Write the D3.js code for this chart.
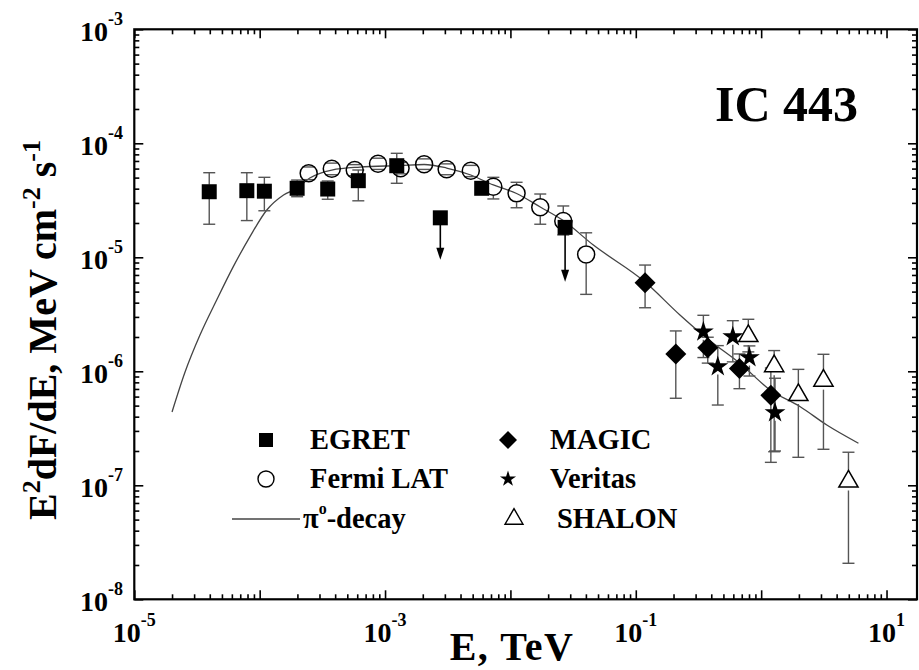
<!DOCTYPE html>
<html>
<head>
<meta charset="utf-8">
<script src="https://cdn.jsdelivr.net/npm/d3@7"></script>
<style>
  body { margin: 0; background: #fff; }
  svg text, svg tspan { font-family: "Liberation Serif", "DejaVu Serif", serif !important; font-weight: bold; fill: #000; }
</style>
</head>
<body>
<svg id="chart" width="919" height="670" style="font-family: 'Liberation Serif', serif;"></svg>
<script>
// ---- EGRET (filled squares) ----
const egretE  = [3.96e-5, 7.9e-5, 1.09e-4, 1.99e-4, 3.49e-4, 6.12e-4, 1.24e-3, 5.9e-3];
const egretF  = [3.76e-5, 3.84e-5, 3.80e-5, 4.03e-5, 3.97e-5, 4.70e-5, 6.36e-5, 4.03e-5];
const egretLo = [1.95e-5, 2.10e-5, 2.56e-5, 3.40e-5, 3.23e-5, 3.13e-5, 4.46e-5, 3.70e-5];
const egretHi = [5.52e-5, 5.52e-5, 5.03e-5, 4.76e-5, 4.67e-5, 5.83e-5, 8.17e-5, 4.40e-5];
// EGRET upper limits (value, arrow tip)
const egretUlE   = [2.76e-3, 2.73e-2];
const egretUlF   = [2.22e-5, 1.83e-5];
const egretUlTip = [9.5e-6, 6.1e-6];

// ---- Fermi LAT (open circles) ----
const fermiE  = [2.46e-4, 3.76e-4, 5.73e-4, 8.79e-4, 1.33e-3, 2.05e-3, 3.10e-3, 4.83e-3, 7.31e-3, 1.12e-2, 1.73e-2, 2.64e-2, 4.02e-2];
const fermiF  = [5.46e-5, 5.98e-5, 5.83e-5, 6.62e-5, 6.04e-5, 6.55e-5, 5.92e-5, 5.75e-5, 4.16e-5, 3.64e-5, 2.75e-5, 2.08e-5, 1.06e-5];
const fermiLo = [4.8e-5, 5.3e-5, 5.2e-5, 5.9e-5, 5.4e-5, 5.9e-5, 5.3e-5, 5.1e-5, 3.25e-5, 2.72e-5, 1.95e-5, 1.57e-5, 4.73e-6];
const fermiHi = [6.2e-5, 6.7e-5, 6.5e-5, 7.4e-5, 6.8e-5, 7.3e-5, 6.6e-5, 6.4e-5, 5.03e-5, 4.55e-5, 3.59e-5, 2.82e-5, 1.64e-5];

// ---- MAGIC (filled diamonds) ----
const magicE  = [0.1186, 0.2085, 0.375, 0.671, 1.195];
const magicF  = [5.98e-6, 1.42e-6, 1.61e-6, 1.06e-6, 6.16e-7];
const magicLo = [3.61e-6, 5.80e-7, 1.18e-6, 7.04e-7, 1.59e-7];
const magicHi = [8.55e-6, 2.26e-6, 1.99e-6, 1.42e-6, 1.07e-6];

// ---- Veritas (stars) ----
const veritasE  = [0.346, 0.451, 0.594, 0.806, 1.29];
const veritasF  = [2.22e-6, 1.10e-6, 2.01e-6, 1.32e-6, 4.34e-7];
const veritasLo = [1.32e-6, 5.06e-7, 1.21e-6, 9.09e-7, 2.00e-7];
const veritasHi = [3.10e-6, 1.68e-6, 2.78e-6, 1.67e-6, 8.69e-7];

// ---- SHALON (open triangles) ----
const shalonE  = [0.79, 1.27, 1.98, 3.14, 4.97];
const shalonF  = [2.04e-6, 1.11e-6, 6.19e-7, 8.28e-7, 1.08e-7];
const shalonLo = [1.48e-6, 1.97e-7, 1.76e-7, 2.07e-7, 2.07e-8];
const shalonHi = [2.86e-6, 1.52e-6, 1.04e-6, 1.41e-6, 1.95e-7];

// ---- pi0-decay model curve ----
const pionE = [2.0e-5, 2.54e-5, 3.34e-5, 4.54e-5, 6.16e-5, 8.37e-5, 1.14e-4, 1.55e-4, 1.98e-4, 2.51e-4,
               3.76e-4, 6.32e-4, 1.32e-3, 2.05e-3, 3.10e-3, 4.83e-3, 7.31e-3, 1.12e-2, 1.73e-2, 2.64e-2,
               4.59e-2, 0.1186, 0.225, 0.368, 0.679, 1.18, 2.05, 3.34, 5.97];
const pionF = [4.40e-7, 9.86e-7, 2.08e-6, 4.22e-6, 8.28e-6, 1.52e-5, 2.60e-5, 3.52e-5, 4.03e-5, 4.96e-5,
               5.83e-5, 6.19e-5, 6.38e-5, 6.52e-5, 6.07e-5, 5.27e-5, 4.31e-5, 3.63e-5, 2.76e-5, 2.10e-5,
               1.28e-5, 6.07e-6, 3.12e-6, 1.95e-6, 1.17e-6, 6.86e-7, 4.89e-7, 3.38e-7, 2.34e-7];

// ---- axis tick labels (decade exponents) ----
const xLabelExp = [-5, -3, -1, 1];
const yLabelExp = [-8, -7, -6, -5, -4, -3];

// ---- legend ----
const legendLeft  = ["EGRET", "Fermi LAT", "-decay"];
const legendRight = ["MAGIC", "Veritas", "SHALON"];
const sourceName = "IC 443";

const SERIF = "'Liberation Serif', 'DejaVu Serif', serif";
const svg = d3.select("#chart");
const X0 = 134.3, X1 = 917, Y0 = 29.3, Y1 = 599.3;
const x = d3.scaleLog().domain([1e-5, 17.5]).range([X0, X1]);
const y = d3.scaleLog().domain([1e-8, 1e-3]).range([Y1, Y0]);

function label(parent) {
  return parent.append("text").attr("font-family", SERIF).attr("font-weight", "bold");
}

// tick values
const decadesX = d3.range(-5, 2).map(e => Math.pow(10, e));
const minorX = [];
d3.range(-5, 2).forEach(e => { for (let m = 2; m <= 9; m++) { const v = m * Math.pow(10, e); if (v < 17.5) minorX.push(v); } });
const decadesY = d3.range(-8, -2).map(e => Math.pow(10, e));
const minorY = [];
d3.range(-8, -3).forEach(e => { for (let m = 2; m <= 9; m++) minorY.push(m * Math.pow(10, e)); });

function tickAxis(gen, pos, vals, len) {
  const g = svg.append("g").attr("transform", pos)
    .call(gen.tickValues(vals).tickSize(len).tickFormat(""));
  g.select(".domain").remove();
  g.selectAll(".tick line").attr("stroke", "#000").attr("stroke-width", 1.6);
}
// inward ticks on all four sides
tickAxis(d3.axisBottom(x), `translate(0,${Y1})`, minorX, -5);
tickAxis(d3.axisBottom(x), `translate(0,${Y1})`, decadesX, -9);
tickAxis(d3.axisTop(x), `translate(0,${Y0})`, minorX, -5);
tickAxis(d3.axisTop(x), `translate(0,${Y0})`, decadesX, -9);
tickAxis(d3.axisLeft(y), `translate(${X0},0)`, minorY, -5);
tickAxis(d3.axisLeft(y), `translate(${X0},0)`, decadesY, -9);
tickAxis(d3.axisRight(y), `translate(${X1},0)`, minorY, -5);
tickAxis(d3.axisRight(y), `translate(${X1},0)`, decadesY, -9);

// frame
svg.append("rect").attr("x", X0).attr("y", Y0).attr("width", X1 - X0).attr("height", Y1 - Y0)
  .attr("fill", "none").attr("stroke", "#000").attr("stroke-width", 2.2);

// tick labels
xLabelExp.forEach(e => {
  const t = label(svg).attr("x", x(Math.pow(10, e))).attr("y", 641.5)
    .attr("text-anchor", "middle").attr("font-size", 28);
  t.append("tspan").text("10");
  t.append("tspan").attr("dy", -16).attr("font-size", 18).text(e);
});
yLabelExp.forEach(e => {
  const t = label(svg).attr("x", 123).attr("y", y(Math.pow(10, e)) + 12)
    .attr("text-anchor", "end").attr("font-size", 28);
  t.append("tspan").text("10");
  t.append("tspan").attr("dy", -16).attr("font-size", 18).text(e);
});

// axis titles
label(svg).attr("x", 512).attr("y", 660).attr("text-anchor", "middle").attr("font-size", 40)
  .attr("letter-spacing", 1.5).text("E, TeV");
const yt = label(svg).attr("transform", "translate(56,330) rotate(-90)")
  .attr("text-anchor", "middle").attr("font-size", 40);
yt.append("tspan").text("E");
yt.append("tspan").attr("dy", -16).attr("font-size", 26).text("2");
yt.append("tspan").attr("dy", 16).text("dF/dE, MeV cm");
yt.append("tspan").attr("dy", -16).attr("font-size", 26).text("-2");
yt.append("tspan").attr("dy", 16).text(" s");
yt.append("tspan").attr("dy", -16).attr("font-size", 26).text("-1");

// source name
label(svg).attr("x", 715).attr("y", 121).attr("font-size", 50).text(sourceName);

// model curve
const plot = svg.append("g");
plot.append("path")
  .datum(d3.zip(pionE, pionF))
  .attr("d", d3.line().x(d => x(d[0])).y(d => y(d[1])).curve(d3.curveMonotoneX))
  .attr("fill", "none").attr("stroke", "#444").attr("stroke-width", 1.3);

// error bars: segments outside the marker plus caps
const errColor = "#555";
function errorBars(E, F, lo, hi, r) {
  E.forEach((e, i) => {
    const px = x(e), py = y(F[i]), ylo = y(lo[i]), yhi = y(hi[i]);
    if (yhi < py - r) plot.append("line").attr("x1", px).attr("x2", px).attr("y1", py - r).attr("y2", yhi)
      .attr("stroke", errColor).attr("stroke-width", 1.4);
    if (ylo > py + r) plot.append("line").attr("x1", px).attr("x2", px).attr("y1", py + r).attr("y2", ylo)
      .attr("stroke", errColor).attr("stroke-width", 1.4);
    [yhi, ylo].forEach(yy => plot.append("line").attr("x1", px - 6).attr("x2", px + 6)
      .attr("y1", yy).attr("y2", yy).attr("stroke", errColor).attr("stroke-width", 1.4));
  });
}
errorBars(egretE, egretF, egretLo, egretHi, 7);
errorBars(fermiE, fermiF, fermiLo, fermiHi, 9);
errorBars(magicE, magicF, magicLo, magicHi, 9);
errorBars(veritasE, veritasF, veritasLo, veritasHi, 8);
errorBars(shalonE, shalonF, shalonLo, shalonHi, 9);

// upper-limit arrows
egretUlE.forEach((e, i) => {
  const px = x(e), py = y(egretUlF[i]), tip = y(egretUlTip[i]);
  plot.append("line").attr("x1", px).attr("x2", px).attr("y1", py).attr("y2", tip - 10)
    .attr("stroke", "#000").attr("stroke-width", 1.6);
  plot.append("path").attr("d", `M${px - 4},${tip - 12}L${px + 4},${tip - 12}L${px},${tip}Z`).attr("fill", "#000");
});

// marker shapes
const sq = s => `M${-s / 2},${-s / 2}h${s}v${s}h${-s}Z`;
const dia = s => `M0,${-s / 2}L${s / 2},0L0,${s / 2}L${-s / 2},0Z`;
const star = d3.symbol().type(d3.symbolStar);
const tri = d3.symbol().type(d3.symbolTriangle);

function markers(E, F, draw) {
  E.forEach((e, i) => draw(plot.append("g").attr("transform", `translate(${x(e)},${y(F[i])})`)));
}
markers(egretE.concat(egretUlE), egretF.concat(egretUlF), g => g.append("path").attr("d", sq(15)).attr("fill", "#000"));
markers(fermiE, fermiF, g => g.append("circle").attr("r", 8.5).attr("fill", "none").attr("stroke", "#000").attr("stroke-width", 1.5));
markers(magicE, magicF, g => g.append("path").attr("d", dia(21)).attr("fill", "#000"));
markers(veritasE, veritasF, g => g.append("path").attr("d", star.size(135)()).attr("fill", "#000"));
markers(shalonE, shalonF, g => g.append("path").attr("d", tri.size(160)()).attr("fill", "#fff").attr("stroke", "#000").attr("stroke-width", 1.5));

// legend
const rowY = [440, 479, 519];
const LFS = 28.5;
const leg = svg.append("g");
leg.append("path").attr("transform", `translate(266,${rowY[0]})`).attr("d", sq(14)).attr("fill", "#000");
leg.append("circle").attr("cx", 266).attr("cy", rowY[1]).attr("r", 8).attr("fill", "none").attr("stroke", "#000").attr("stroke-width", 1.4);
leg.append("line").attr("x1", 232).attr("x2", 300).attr("y1", rowY[2]).attr("y2", rowY[2]).attr("stroke", "#444").attr("stroke-width", 1.3);
label(leg).attr("x", 310).attr("y", rowY[0] + 9).attr("font-size", LFS).text(legendLeft[0]);
label(leg).attr("x", 310).attr("y", rowY[1] + 9).attr("font-size", LFS).text(legendLeft[1]);
const pt = label(leg).attr("x", 303).attr("y", rowY[2] + 9).attr("font-size", LFS);
pt.append("tspan").text("π");
pt.append("tspan").attr("dy", -14).attr("font-size", 16).text("o");
pt.append("tspan").attr("dy", 14).text(legendLeft[2]);

leg.append("path").attr("transform", `translate(508,${rowY[0]})`).attr("d", dia(18)).attr("fill", "#000");
leg.append("path").attr("transform", `translate(508,${rowY[1]})`).attr("d", star.size(80)()).attr("fill", "#000");
leg.append("path").attr("transform", `translate(514,${rowY[2]})`).attr("d", tri.size(140)()).attr("fill", "#fff").attr("stroke", "#000").attr("stroke-width", 1.4);
label(leg).attr("x", 550).attr("y", rowY[0] + 9).attr("font-size", LFS).text(legendRight[0]);
label(leg).attr("x", 550).attr("y", rowY[1] + 9).attr("font-size", LFS).text(legendRight[1]);
label(leg).attr("x", 557).attr("y", rowY[2] + 9).attr("font-size", LFS).text(legendRight[2]);
</script>
</body>
</html>
